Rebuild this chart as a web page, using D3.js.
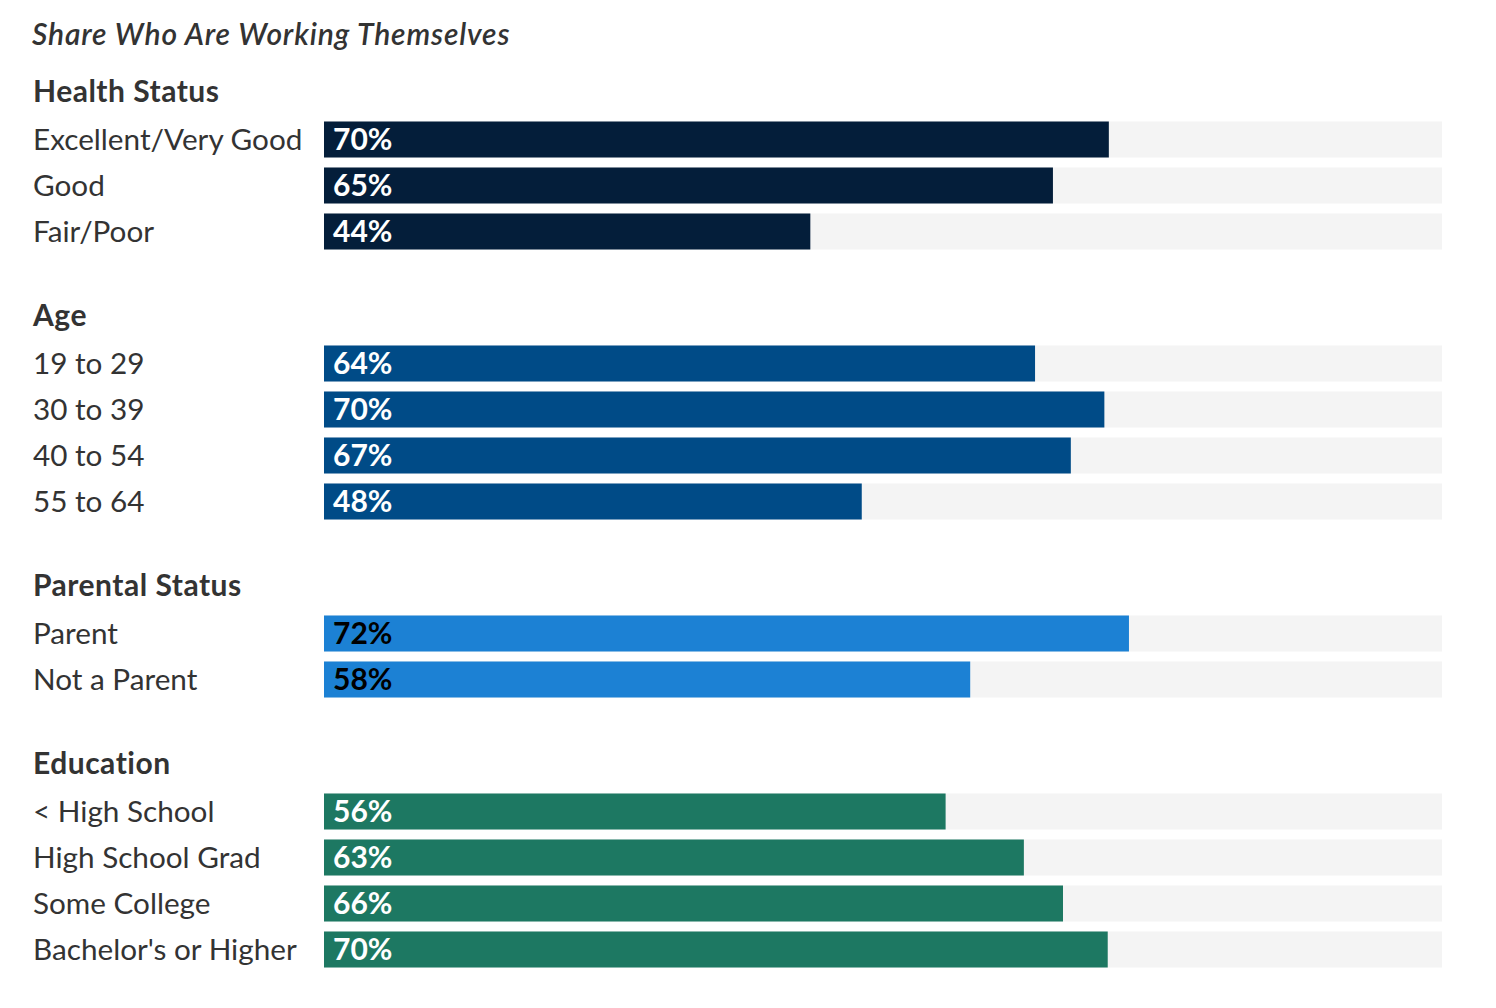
<!DOCTYPE html>
<html>
<head>
<meta charset="utf-8">
<script src="https://cdn.jsdelivr.net/npm/d3@7"></script>
<style>
  body { margin: 0; background: #fff; }
  svg { display: block; font-family: Lato, "Open Sans", sans-serif; }
</style>
</head>
<body>
<div id="chart"></div>
<script>
// chart data
const title = "Share Who Are Working Themselves";
const groups = ["Health Status", "Age", "Parental Status", "Education"];

const healthLabels = ["Excellent/Very Good", "Good", "Fair/Poor"];
const healthValues = [70.2, 65.2, 43.5];

const ageLabels = ["19 to 29", "30 to 39", "40 to 54", "55 to 64"];
const ageValues = [63.6, 69.8, 66.8, 48.1];

const parentLabels = ["Parent", "Not a Parent"];
const parentValues = [72.0, 57.8];

const eduLabels = ["< High School", "High School Grad", "Some College", "Bachelor's or Higher"];
const eduValues = [55.6, 62.6, 66.1, 70.1];

const groupColors = ["#041e3a", "#004b87", "#1c81d4", "#1d7862"];
const labelColors = ["#fff", "#fff", "#000", "#fff"];

//chart size
const width = 1496;
const height = 1008;
const margin = { left: 33, barLeft: 324, right: 54 };
const rowStep = 46;
const barHeight = 36;
const headerToRow = 48.5;
const groupGap = 83.5;
const firstHeader = 91;

const rowsByGroup = [
  { labels: healthLabels, values: healthValues },
  { labels: ageLabels, values: ageValues },
  { labels: parentLabels, values: parentValues },
  { labels: eduLabels, values: eduValues }
];

// flatten rows and compute header centres
const headers = [];
const rows = [];
let cursor = firstHeader;
rowsByGroup.forEach((g, gi) => {
  headers.push({ name: groups[gi], y: cursor });
  g.labels.forEach((label, i) => {
    rows.push({ group: gi, label: label, value: g.values[i], y: cursor + headerToRow + i * rowStep });
  });
  cursor += headerToRow + (g.labels.length - 1) * rowStep + groupGap;
});

const x = d3.scaleLinear()
  .domain([0, 100])
  .range([margin.barLeft, width - margin.right]);

const fmt = v => Math.round(v) + "%";

const svg = d3.select("#chart")
  .append("svg")
  .attr("width", width)
  .attr("height", height);

// title
svg.append("text")
  .attr("x", margin.left - 1)
  .attr("y", 34)
  .attr("dy", "0.35em")
  .attr("fill", "#333")
  .attr("font-size", 30)
  .attr("letter-spacing", 0.85)
  .attr("font-style", "italic")
  .attr("font-weight", 600)
  .text(title);

// group headers
svg.selectAll(".header")
  .data(headers)
  .enter().append("text")
  .attr("class", "header")
  .attr("x", margin.left)
  .attr("y", d => d.y)
  .attr("dy", "0.35em")
  .attr("fill", "#333")
  .attr("font-size", 30)
  .attr("letter-spacing", 0.5)
  .attr("font-weight", 700)
  .text(d => d.name);

const row = svg.selectAll(".row")
  .data(rows)
  .enter().append("g")
  .attr("class", "row")
  .attr("transform", d => `translate(0,${d.y})`);

// category labels
row.append("text")
  .attr("x", margin.left)
  .attr("dy", "0.35em")
  .attr("fill", "#333")
  .attr("font-size", 29.7)
  .text(d => d.label);

// background track
row.append("rect")
  .attr("x", x(0))
  .attr("y", -barHeight / 2)
  .attr("width", x(100) - x(0))
  .attr("height", barHeight)
  .attr("fill", "#f4f4f4");

// value bar
row.append("rect")
  .attr("x", x(0))
  .attr("y", -barHeight / 2)
  .attr("width", d => x(d.value) - x(0))
  .attr("height", barHeight)
  .attr("fill", d => groupColors[d.group]);

// value label
row.append("text")
  .attr("x", x(0) + 9)
  .attr("dy", "0.35em")
  .attr("fill", d => labelColors[d.group])
  .attr("font-size", 30)
  .attr("font-weight", 700)
  .text(d => fmt(d.value));
</script>
</body>
</html>
